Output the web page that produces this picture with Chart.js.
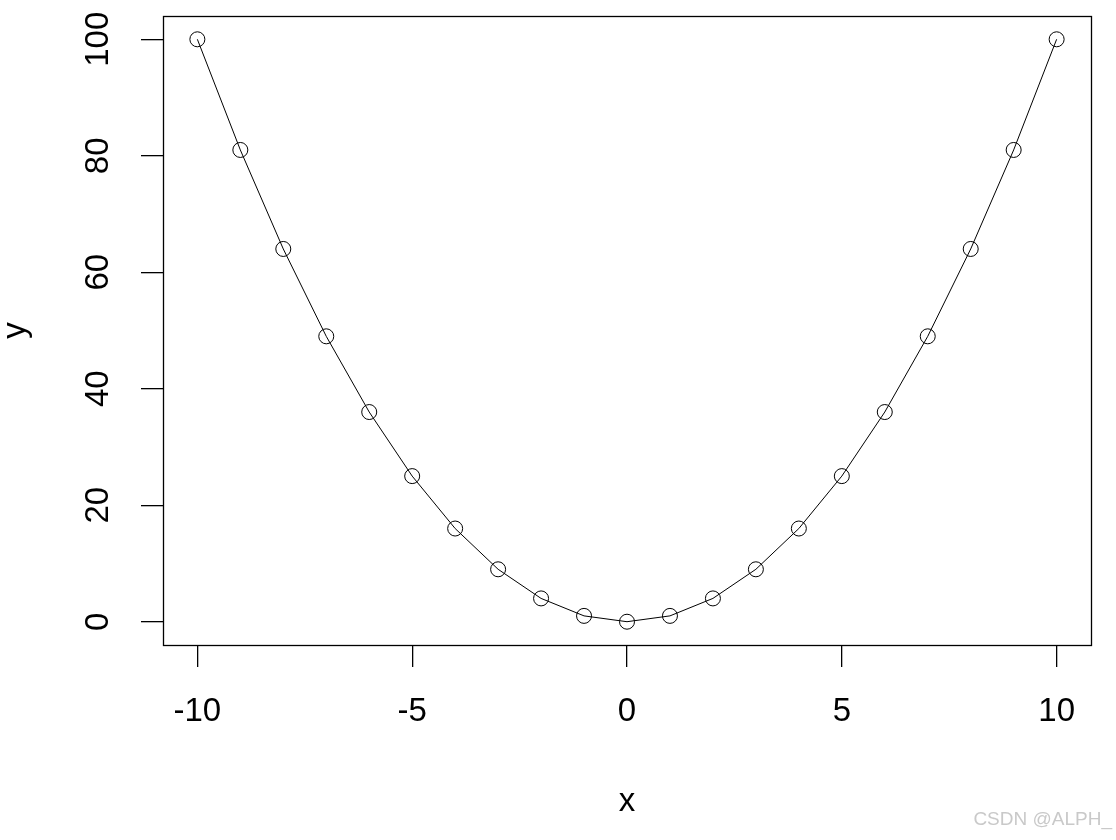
<!DOCTYPE html>
<html>
<head>
<meta charset="utf-8">
<script src="https://cdn.jsdelivr.net/npm/chart.js@4/dist/chart.umd.min.js"></script>
<style>
  body { margin: 0; background: #fff; }
  #wrap { position: relative; width: 1116px; height: 840px; }
  #mark { position: absolute; right: 4px; top: 808px; font: 19px "Liberation Sans", Arial, sans-serif; color: #c9c9c9; }
</style>
</head>
<body>
<div id="wrap">
  <canvas id="myChart" width="1116" height="840"></canvas>
  <div id="mark">CSDN @ALPH_</div>
</div>
<script>
const xValues = [-10, -9, -8, -7, -6, -5, -4, -3, -2, -1, 0, 1, 2, 3, 4, 5, 6, 7, 8, 9, 10];
const yValues = [100, 81, 64, 49, 36, 25, 16, 9, 4, 1, 0, 1, 4, 9, 16, 25, 36, 49, 64, 81, 100];
const xTicks = [-10, -5, 0, 5, 10];
const yTicks = [0, 20, 40, 60, 80, 100];

const font = "'Liberation Sans', Arial, sans-serif";

// box round the plot region, like R's box()
const boxPlugin = {
  id: 'box',
  afterDraw(chart) {
    const a = chart.chartArea;
    const ctx = chart.ctx;
    ctx.save();
    ctx.strokeStyle = '#000';
    ctx.lineWidth = 1.3;
    ctx.strokeRect(Math.round(a.left) + 0.5, Math.round(a.top) + 0.5,
      Math.round(a.right - a.left), Math.round(a.bottom - a.top));
    ctx.restore();
  }
};

const ctx = document.getElementById('myChart').getContext('2d');
const myChart = new Chart(ctx, {
  type: 'line',
  data: {
    datasets: [{
      data: xValues.map((x, i) => ({x: x, y: yValues[i]})),
      borderColor: '#000',
      borderWidth: 1,
      backgroundColor: 'rgba(0,0,0,0)',
      pointRadius: 7.5,
      pointBorderWidth: 1,
      pointBorderColor: '#000',
      pointBackgroundColor: 'rgba(0,0,0,0)',
      tension: 0
    }]
  },
  options: {
    responsive: false,
    animation: false,
    devicePixelRatio: 1,
    layout: { padding: { top: 16, right: 25, left: 0, bottom: 0 } },
    plugins: { legend: { display: false }, tooltip: { enabled: false } },
    scales: {
      x: {
        type: 'linear',
        min: -10.8,
        max: 10.8,
        afterBuildTicks: s => { s.ticks = xTicks.map(v => ({value: v})); },
        afterFit: s => { s.height = 195; },
        border: { display: false },
        grid: { drawOnChartArea: false, drawTicks: true, tickLength: 22, color: '#000', lineWidth: 1.3 },
        ticks: { color: '#000', font: { family: font, size: 33 }, padding: 25, maxRotation: 0, autoSkip: false },
        title: { display: true, text: 'x', color: '#000', font: { family: font, size: 33 }, padding: { top: 0, bottom: 18 } }
      },
      y: {
        type: 'linear',
        min: -4,
        max: 104,
        afterBuildTicks: s => { s.ticks = yTicks.map(v => ({value: v})); },
        afterFit: s => { s.width = 163; s.paddingTop = 0; s.paddingBottom = 0; },
        border: { display: false },
        grid: { drawOnChartArea: false, drawTicks: true, tickLength: 22, color: '#000', lineWidth: 1.3 },
        ticks: { color: '#000', font: { family: font, size: 33 }, padding: 15, minRotation: 90, maxRotation: 90, crossAlign: 'center', autoSkip: false },
        title: { display: true, text: 'y', color: '#000', font: { family: font, size: 33 }, padding: { top: -4, bottom: 0 } }
      }
    }
  },
  plugins: [boxPlugin]
});
</script>
</body>
</html>
